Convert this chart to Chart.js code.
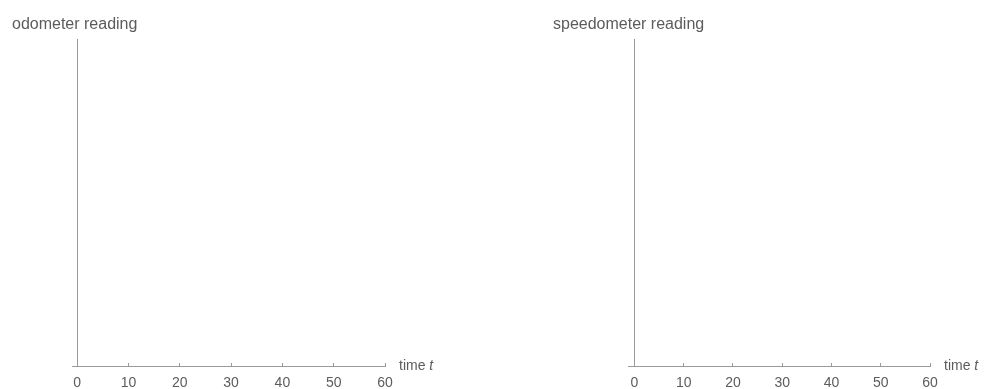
<!DOCTYPE html>
<html lang="en">
<head>
    <meta charset="UTF-8">
    <title>Odometer and speedometer reading</title>
    <script src="https://cdn.jsdelivr.net/npm/chart.js@4.4.1/dist/chart.umd.min.js"></script>
    <style>
        body {
            margin: 0;
            width: 987px;
            height: 389px;
            background: #fff;
            position: relative;
            overflow: hidden;
        }
        .panel {
            position: absolute;
            top: 0;
            height: 389px;
        }
        #odoWrap { left: 0; width: 490px; }
        #speedWrap { left: 541px; width: 446px; }
    </style>
</head>
<body>
    <div class="panel" id="odoWrap"><canvas id="odoChart"></canvas></div>
    <div class="panel" id="speedWrap"><canvas id="speedChart"></canvas></div>

    <script>
        // axis values (both panels are empty sets of axes)
        const timeTicks = [0, 10, 20, 30, 40, 50, 60];
        const timeMax = 60;
        const odoTimeMin = -1;
        const speedTimeMin = -1.3;
        const odometerData = [];
        const speedometerData = [];

        const lineColor = '#9a9a9a';
        const textColor = '#5c5c5c';
        const fontFamily = '"Liberation Sans", Arial, sans-serif';

        // draws the panel title and the "time t" axis label
        const labelsPlugin = {
            id: 'panelLabels',
            afterDraw(chart, args, opts) {
                const ctx = chart.ctx;
                const xs = chart.scales.x;
                const ys = chart.scales.y;
                ctx.save();
                ctx.fillStyle = textColor;
                ctx.textBaseline = 'alphabetic';
                ctx.textAlign = 'left';
                ctx.font = '16px ' + fontFamily;
                ctx.fillText(opts.title, 12, 29);

                const lx = xs.getPixelForValue(timeMax) + 14;
                const ly = ys.getPixelForValue(0) + 4;
                ctx.font = '14px ' + fontFamily;
                ctx.fillText('time ', lx, ly);
                const w = ctx.measureText('time ').width;
                ctx.font = 'italic 14px ' + fontFamily;
                ctx.fillText('t', lx + w, ly);
                ctx.restore();
            }
        };

        function makeChart(id, title, data, xMin, padLeft, padRight) {
            return new Chart(document.getElementById(id), {
                type: 'scatter',
                data: { datasets: [{ data: data, pointRadius: 0 }] },
                options: {
                    responsive: true,
                    maintainAspectRatio: false,
                    animation: false,
                    layout: { padding: { left: padLeft, right: padRight, top: 39, bottom: 23 } },
                    plugins: {
                        legend: { display: false },
                        tooltip: { enabled: false },
                        panelLabels: { title: title }
                    },
                    scales: {
                        x: {
                            type: 'linear',
                            position: { y: 0 },
                            min: xMin,
                            max: timeMax,
                            afterBuildTicks: s => { s.ticks = timeTicks.map(v => ({ value: v })); },
                            grid: {
                                drawOnChartArea: false,
                                drawTicks: true,
                                tickLength: -4,
                                color: lineColor
                            },
                            border: { display: true, color: lineColor, width: 1 },
                            ticks: {
                                padding: 13,
                                color: textColor,
                                maxRotation: 0,
                                autoSkip: false,
                                font: { family: fontFamily, size: 14 }
                            }
                        },
                        y: {
                            type: 'linear',
                            position: { x: 0 },
                            min: 0,
                            max: 1,
                            grid: { display: false },
                            border: { display: true, color: lineColor, width: 1 },
                            ticks: { display: false }
                        }
                    }
                },
                plugins: [labelsPlugin]
            });
        }

        makeChart('odoChart', 'odometer reading', odometerData, odoTimeMin, 72, 105);
        makeChart('speedChart', 'speedometer reading', speedometerData, speedTimeMin, 87, 57);
    </script>
</body>
</html>
